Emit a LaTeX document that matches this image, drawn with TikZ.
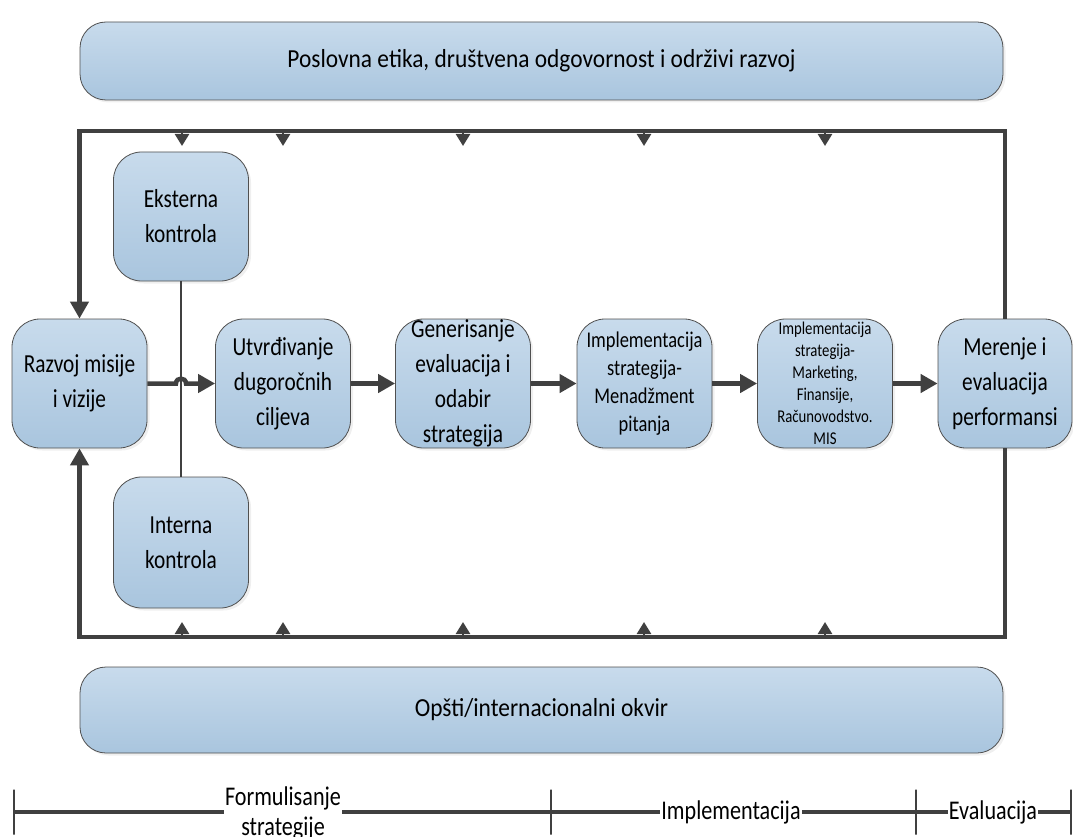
\documentclass[tikz,border=0pt]{standalone}
\usepackage{fontspec}
\setmainfont{Carlito}
\newfontfamily\boxfont[FakeStretch=0.82]{Carlito}
\newfontfamily\barfont[FakeStretch=0.9]{Carlito}
\usetikzlibrary{arrows.meta,shadows}
\definecolor{linegray}{HTML}{404040}
\definecolor{boxtop}{HTML}{C8DBEC}
\definecolor{boxbot}{HTML}{A9C5DE}
\definecolor{boxedge}{HTML}{505050}

\begin{document}
\begin{tikzpicture}[x=1pt,y=-1pt,
  card/.style={draw=boxedge, line width=0.8pt, top color=boxtop, bottom color=boxbot,
    drop shadow={shadow xshift=2.5pt, shadow yshift=-2.5pt, fill=black!12},
    align=center, inner sep=0pt, text=black},
  stage/.style={card, rounded corners=28pt, minimum width=135pt, minimum height=129pt,
    font=\boxfont\fontsize{26}{35}\selectfont},
  band/.style={card, rounded corners=26pt, minimum width=923pt,
    font=\barfont\fontsize{26}{30}\selectfont},
  flow/.style={draw=linegray, line width=4.5pt, -{Triangle[length=17pt,width=18pt]}},
  loopline/.style={draw=linegray, line width=4.5pt},
  marker/.style={draw=linegray, line width=2.5pt, -{Triangle[length=12pt,width=14pt]}},
  ctrlline/.style={draw=linegray, line width=1.2pt},
  tick/.style={draw=linegray, line width=2pt, minimum width=0pt, minimum height=45pt, inner sep=0pt},
  tline/.style={draw=linegray, line width=4.5pt},
  phase/.style={fill=white, inner sep=1pt, align=center, text=black,
    font=\boxfont\fontsize{27}{30}\selectfont},
]
\useasboundingbox (0,0) rectangle (1073,837);

% outer context bands
\node[band, minimum height=78pt] (ethics) at (541.5,61) {Poslovna etika, društvena odgovornost i održivi razvoj};
\node[band, minimum height=86pt] (frame) at (541.5,710) {Opšti/internacionalni okvir};

% process stages
\node[stage] (razvoj) at (79.5,383.5) {Razvoj misije\\i vizije};
\node[stage] (utvr) at (283,383.5) {Utvrđivanje\\dugoročnih\\ciljeva};
\node[stage] (gen) at (463,383.5) {Generisanje\\evaluacija i\\odabir\\strategija};
\node[stage, font=\boxfont\fontsize{22.5}{28}\selectfont] (impl) at (644.5,383.5)
  {Implementacija\\strategija-\\Menadžment\\pitanja};
\node[stage, font=\boxfont\fontsize{18}{22}\selectfont] (impl2) at (825,383.5)
  {Implementacija\\strategija-\\Marketing,\\Finansije,\\Računovodstvo.\\MIS};
\node[stage, minimum width=134pt] (merenje) at (1005,383.5) {Merenje i\\evaluacija\\performansi};

% control boxes
\node[stage] (eksterna) at (181,216.5) {Eksterna\\kontrola};
\node[stage, minimum height=131pt] (interna) at (181,542.5) {Interna\\kontrola};

% link between the two controls
\draw[ctrlline] (eksterna.south) -- (interna.north);

% main flow
\draw[flow] (razvoj.east) -- (176,383.5) .. controls (176,377) and (186,377) .. (186,383.5) -- (utvr.west);
\draw[flow] (utvr) -- (gen);
\draw[flow] (gen) -- (impl);
\draw[flow] (impl) -- (impl2);
\draw[flow] (impl2) -- (merenje);

% feedback loops
\coordinate (ctl) at (79.5,131);
\coordinate (cbl) at (79.5,637);
\draw[loopline, -{Triangle[length=17pt,width=18pt]}] (merenje.north) |- (ctl) -- (razvoj.north);
\draw[loopline, -{Triangle[length=17pt,width=18pt]}] (merenje.south) |- (cbl) -- (razvoj.south);

% markers along the loops
\foreach \mx [count=\i] in {182,283,463,644,825} {
  \coordinate (mt\i) at (\mx,131);
  \coordinate (mb\i) at (\mx,637);
  \draw[marker] (mt\i) -- ++(0,15);
  \draw[marker] (mb\i) -- ++(0,-15);
}

% phase timeline
\node[tick] (k0) at (14,812) {};
\node[tick] (k1) at (551,812) {};
\node[tick] (k2) at (916,812) {};
\node[tick] (k3) at (1071,812) {};
\draw[tline] (k0) -- (k1) -- (k2) -- (k3);
\node[phase] (pform) at (283,813) {Formulisanje\\strategije};
\node[phase] (pimpl) at (731,812) {Implementacija};
\node[phase] (peval) at (993,812) {Evaluacija};
\end{tikzpicture}
\end{document}
